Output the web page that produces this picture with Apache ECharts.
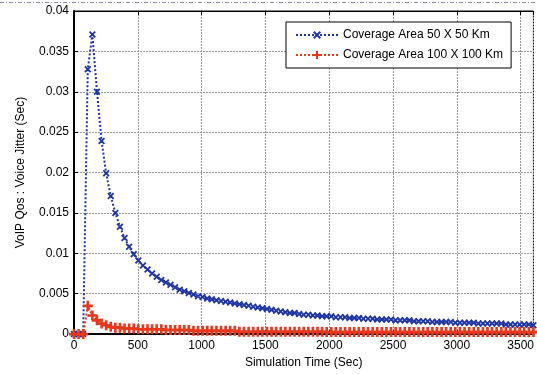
<!DOCTYPE html>
<html>
<head>
<meta charset="utf-8">
<script src="https://cdn.jsdelivr.net/npm/echarts@6/dist/echarts.min.js"></script>
<style>
html,body{margin:0;padding:0;background:#fff;}
#c{width:537px;height:374px;}
</style>
</head>
<body>
<div id="c"></div>
<script>
// Simulation time (s), sampled every 36 s
const timeSec = [];
for (let i = 0; i <= 100; i++) timeSec.push(i * 36);

const seriesNames = ['Coverage Area 50 X 50 Km', 'Coverage Area 100 X 100 Km'];

const jitter50 = [
  0, 0, 0, 0.0328, 0.0371, 0.0300, 0.0239, 0.0199, 0.0171, 0.0150,
  0.0133, 0.0119, 0.0108, 0.0099, 0.0091, 0.0085, 0.0080, 0.0075, 0.0071, 0.0067,
  0.0064, 0.0061, 0.0058, 0.0055, 0.0053, 0.0051, 0.0049, 0.0047, 0.0046, 0.0044,
  0.0043, 0.0042, 0.0041, 0.0040, 0.0039, 0.0038, 0.0037, 0.0036, 0.0035, 0.0034,
  0.0033, 0.0032, 0.0031, 0.0030, 0.0029, 0.0028, 0.0027, 0.0026, 0.0026, 0.0025,
  0.0024, 0.0024, 0.0023, 0.0023, 0.0022, 0.0022, 0.0022, 0.0021, 0.0021, 0.0021,
  0.0020, 0.0020, 0.0020, 0.0019, 0.0019, 0.0019, 0.0018, 0.0018, 0.0018, 0.0018,
  0.0017, 0.0017, 0.0017, 0.0017, 0.0016, 0.0016, 0.0016, 0.0016, 0.0015, 0.0015,
  0.0015, 0.0015, 0.0015, 0.0014, 0.0014, 0.0014, 0.0014, 0.0014, 0.0013, 0.0013,
  0.0013, 0.0013, 0.0013, 0.0013, 0.0012, 0.0012, 0.0012, 0.0012, 0.0012, 0.0012,
  0.0011
];

const jitter100 = [
  0, 0, 0, 0.0035, 0.0023, 0.0017, 0.0013, 0.0011, 0.0009, 0.0008,
  0.0008, 0.0007, 0.0007, 0.0007, 0.0006, 0.0006, 0.0006, 0.0006, 0.0006, 0.0006,
  0.0005, 0.0005, 0.0005, 0.0005, 0.0005, 0.0005, 0.0004, 0.0004, 0.0004, 0.0004,
  0.0004, 0.0004, 0.0004, 0.0004, 0.0004, 0.0004, 0.0003, 0.0003, 0.0003, 0.0003,
  0.0003, 0.0003, 0.0003, 0.0003, 0.0003, 0.0003, 0.0003, 0.0003, 0.0003, 0.0003,
  0.0003, 0.0003, 0.0003, 0.0003, 0.0003, 0.00025, 0.00025, 0.00025, 0.00025, 0.00025,
  0.00025, 0.00025, 0.00025, 0.00025, 0.00025, 0.00025, 0.00025, 0.00025, 0.00025, 0.00025,
  0.00025, 0.00025, 0.00025, 0.00025, 0.00025, 0.00025, 0.00025, 0.00025, 0.00025, 0.00025,
  0.00025, 0.00025, 0.00025, 0.00025, 0.00025, 0.00025, 0.00025, 0.00025, 0.00025, 0.00025,
  0.00025, 0.00025, 0.00025, 0.00025, 0.00025, 0.00025, 0.00025, 0.00025, 0.00025, 0.00025,
  0.00025
];

const xTitle = 'Simulation Time (Sec)';
const yTitle = 'VoIP Qos : Voice Jitter (Sec)';

const FONT = '"Liberation Sans", Arial, sans-serif';
const xSym = 'path://M0,1.8L1.8,0L5,3.2L8.2,0L10,1.8L6.8,5L10,8.2L8.2,10L5,6.8L1.8,10L0,8.2L3.2,5Z';
const plusSym = 'path://M3.7,0H6.3V3.7H10V6.3H6.3V10H3.7V6.3H0V3.7H3.7Z';

const chart = echarts.init(document.getElementById('c'), null, {renderer: 'canvas'});
chart.setOption({
  animation: false,
  backgroundColor: '#fff',
  textStyle: {fontFamily: FONT},
  grid: {left: 74, right: -3, top: 11, bottom: 39, show: true, borderColor: '#000', borderWidth: 1},
  legend: {
    orient: 'vertical', left: 286, top: 22,
    padding: [7, 8, 7, 9], itemGap: 8, itemWidth: 42, itemHeight: 10,
    borderColor: '#000', borderWidth: 1, backgroundColor: '#fff',
    textStyle: {fontFamily: FONT, fontSize: 12, color: '#000'},
    data: seriesNames
  },
  graphic: [{
    type: 'line', shape: {x1: 0, y1: 2.5, x2: 537, y2: 2.5},
    style: {stroke: '#8890a8', lineWidth: 1, lineDash: [4, 2, 1, 2]}
  }],
  xAxis: [{
    type: 'value', min: 0, max: 3600, interval: 500,
    name: xTitle, nameLocation: 'middle', nameGap: 15,
    nameTextStyle: {fontFamily: FONT, fontSize: 12, color: '#000'},
    axisLine: {lineStyle: {color: '#000', width: 2}},
    axisTick: {inside: true, length: 4, lineStyle: {color: '#000'}},
    axisLabel: {fontFamily: FONT, fontSize: 12, color: '#000', margin: 6, showMaxLabel: false,
      formatter: v => String(v)},
    splitLine: {show: true, lineStyle: {color: '#9a9a9a', type: [2, 1], width: 1}}
  }, {
    type: 'value', position: 'top', min: 0, max: 3600, interval: 500,
    axisLine: {show: true, lineStyle: {color: '#000', width: 1}},
    axisTick: {inside: true, length: 4, lineStyle: {color: '#000'}},
    axisLabel: {show: false}, splitLine: {show: false}
  }],
  yAxis: [{
    type: 'value', min: 0, max: 0.04, interval: 0.005,
    name: yTitle, nameLocation: 'middle', nameGap: 47,
    nameTextStyle: {fontFamily: FONT, fontSize: 12, color: '#000'},
    axisLine: {show: true, lineStyle: {color: '#000', width: 2}},
    axisTick: {show: true, inside: true, length: 4, lineStyle: {color: '#000'}},
    axisLabel: {fontFamily: FONT, fontSize: 12, color: '#000', margin: 5,
      formatter: v => String(+v.toFixed(3))},
    splitLine: {show: true, lineStyle: {color: '#9a9a9a', type: [2, 1], width: 1}}
  }],
  series: [{
    name: seriesNames[0], type: 'line',
    data: timeSec.map((t, i) => [t, jitter50[i]]),
    symbol: xSym, symbolSize: 7, showAllSymbol: true,
    lineStyle: {color: '#1f35a5', width: 2, type: [2, 2]},
    itemStyle: {color: '#1f35a5'}
  }, {
    name: seriesNames[1], type: 'line',
    data: timeSec.map((t, i) => [t, jitter100[i]]),
    symbol: plusSym, symbolSize: 10, showAllSymbol: true,
    lineStyle: {color: '#e8381c', width: 2, type: [2, 2]},
    itemStyle: {color: '#e8381c'}
  }]
});
</script>
</body>
</html>
